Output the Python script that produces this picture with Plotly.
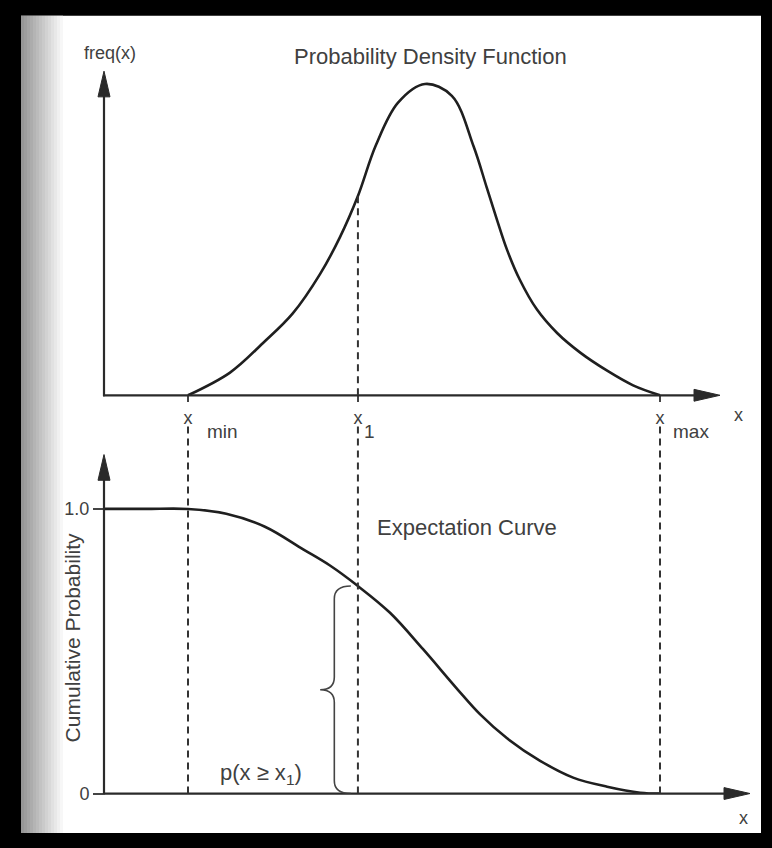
import plotly.graph_objects as go

# values (x in units where x_min = 0, x_max = 10)
x_min = 0.0
x_1 = 3.6
x_max = 10.0

pdf_x = [0, 0.89, 1.59, 2.22, 2.80, 3.22, 3.6, 3.98, 4.45, 5.02, 5.59, 6.05, 6.33, 6.55, 6.76,
         7.03, 7.39, 7.82, 8.31, 8.88, 9.43, 10]
pdf_y = [0, 0.073, 0.168, 0.263, 0.39, 0.508, 0.64, 0.803, 0.94, 1.0, 0.962, 0.80, 0.667, 0.562,
         0.467, 0.371, 0.276, 0.2, 0.137, 0.079, 0.032, 0]

cdf_x = [-1.78, -0.9, 0, 0.81, 1.63, 2.44, 3.0, 3.6, 4.28, 4.98, 5.70, 6.19, 6.76, 7.46, 8.16,
         8.88, 9.58, 10]
cdf_y = [1.0, 1.0, 1.0, 0.983, 0.9375, 0.858, 0.802, 0.729, 0.635, 0.507, 0.368, 0.278, 0.194,
         0.115, 0.056, 0.024, 0.003, 0]

W, H = 772, 848
INK = "#1f1f1f"
TXT = "#404040"
FONT = "Liberation Sans, Arial, sans-serif"

# pixel calibration of the scanned figure
PX_XMIN, PX_PER_X = 188, 47.2
def dx(px):
    return (px - PX_XMIN) / PX_PER_X
def pp(px, py):
    return px / W, 1 - py / H

fig = go.Figure()

fig.add_trace(go.Scatter(x=pdf_x, y=pdf_y, xaxis="x2", yaxis="y2", mode="lines",
                         line=dict(color=INK, width=2.6, shape="spline", smoothing=1.0),
                         hoverinfo="skip"))
fig.add_trace(go.Scatter(x=cdf_x, y=cdf_y, xaxis="x", yaxis="y", mode="lines",
                         line=dict(color=INK, width=2.6, shape="spline", smoothing=1.0),
                         hoverinfo="skip"))

shapes = []
# black frame + paper
x0, y0 = pp(21, 16)
x1p, y1p = pp(761, 843)
shapes.append(dict(type="rect", xref="paper", yref="paper", x0=x0, y0=y1p, x1=x1p, y1=y0,
                   fillcolor="white", line=dict(width=0), layer="below"))
# grey shading on the left edge of the scan
for i in range(14):
    g = int(150 + i * 7.5)
    a, _ = pp(21 + i * 3, 0)
    b, _ = pp(24 + i * 3, 0)
    shapes.append(dict(type="rect", xref="paper", yref="paper", x0=a, x1=b, y0=y1p, y1=y0,
                       fillcolor=f"rgb({g},{g},{g})", line=dict(width=0), layer="below"))

def seg(p, q, w=2.2, color="#2a2a2a"):
    a = pp(*p); b = pp(*q)
    shapes.append(dict(type="line", xref="paper", yref="paper", x0=a[0], y0=a[1], x1=b[0], y1=b[1],
                       line=dict(color=color, width=w)))

def head(tip, direction):
    tx, ty = tip
    L, hw = 26, 6
    if direction == "up":
        pts = [(tx, ty), (tx - hw, ty + L), (tx + hw, ty + L)]
    else:
        pts = [(tx, ty), (tx - L, ty - hw), (tx - L, ty + hw)]
    p = [pp(*q) for q in pts]
    path = "M{},{} L{},{} L{},{} Z".format(p[0][0], p[0][1], p[1][0], p[1][1], p[2][0], p[2][1])
    shapes.append(dict(type="path", xref="paper", yref="paper", path=path,
                       fillcolor="#2a2a2a", line=dict(color="#2a2a2a", width=1)))

# axes with arrows
seg((104, 401), (104, 92)); head((104, 72), "up")
seg((103, 400), (700, 400)); head((720, 400), "right")
seg((104, 804), (104, 480)); head((104, 460), "up")
seg((103, 803), (730, 803)); head((750, 803), "right")

dash = "7px,5px"
# dashed line under the pdf at x1
shapes.append(dict(type="line", xref="x2", yref="y2", x0=x_1, x1=x_1, y0=0,
                   y1=pdf_y[pdf_x.index(x_1)], line=dict(color="#333", width=2, dash=dash)))
# dashed verticals through the lower panel
for xv in [x_min, x_1, x_max]:
    shapes.append(dict(type="line", xref="x", yref="paper", x0=xv, x1=xv,
                       y0=pp(0, 803)[1], y1=pp(0, 428)[1],
                       line=dict(color="#333", width=2, dash=dash)))

# brace for p(x >= x1)
top = cdf_y[cdf_x.index(x_1)]
xe, xs, xt = x_1 - 0.15, x_1 - 0.5, x_1 - 0.8
mid = top / 2
c = 0.045
brace = (f"M{xe},{top} Q{xs},{top} {xs},{top - c} L{xs},{mid + c} Q{xs},{mid} {xt},{mid} "
         f"Q{xs},{mid} {xs},{mid - c} L{xs},{c} Q{xs},0 {xe},0")
shapes.append(dict(type="path", xref="x", yref="y", path=brace,
                   line=dict(color="#444", width=1.6)))

ann = []
def label(text, px, py, size=17, **kw):
    a, b = pp(px, py)
    d = dict(text=text, xref="paper", yref="paper", x=a, y=b, showarrow=False,
             xanchor="center", yanchor="middle",
             font=dict(family=FONT, size=size, color=TXT))
    d.update(kw)
    ann.append(d)

label("freq(x)", 110, 54, size=18)
label("Probability Density Function", 430, 57, size=22)
label("x", 738, 420, size=18)
label("min", 205, 437, size=19, xanchor="left")
label("1", 362, 437, size=19, xanchor="left")
label("max", 671, 437, size=19, xanchor="left")
label("x", 743, 828, size=18)
label("Cumulative Probability", 72, 646, size=21, textangle=-90)
label("Expectation Curve", 467, 534, size=22)
label("p(x ≥ x<sub>1</sub>)", 261, 783, size=22)

xr = [dx(104), dx(760)]
fig.update_layout(
    width=W, height=H, margin=dict(l=0, r=0, t=0, b=0),
    paper_bgcolor="black", plot_bgcolor="rgba(0,0,0,0)", showlegend=False,
    shapes=shapes, annotations=ann,
    xaxis=dict(domain=[104 / W, 760 / W], range=xr, anchor="y", showgrid=False,
               zeroline=False, showline=False, showticklabels=False, fixedrange=True),
    xaxis2=dict(domain=[104 / W, 760 / W], range=xr, anchor="y2", showgrid=False,
                zeroline=False, showline=False, tickmode="array",
                tickvals=[x_min, x_1, x_max], ticktext=["x", "x", "x"],
                ticks="outside", ticklen=6, tickwidth=1.5, tickcolor="#444",
                tickfont=dict(family=FONT, size=18, color=TXT)),
    yaxis=dict(domain=[1 - 803 / H, 1 - 450 / H], range=[0, (803 - 450) / 288], anchor="x",
               showgrid=False, zeroline=False, showline=False, tickmode="array",
               tickvals=[0, 1], ticktext=["0", "1.0"], ticks="outside", ticklen=10,
               tickwidth=1.5, tickcolor="#444", tickfont=dict(family=FONT, size=18, color=TXT)),
    yaxis2=dict(domain=[1 - 400 / H, 1 - 60 / H], range=[0, (400 - 60) / 315], anchor="x2",
                showgrid=False, zeroline=False, showline=False, showticklabels=False),
)

fig.write_html("out.html", config={"displayModeBar": False},
               post_script="document.body.style.margin='0';"
                           "document.body.style.overflow='hidden';"
                           "document.documentElement.style.overflow='hidden';")
